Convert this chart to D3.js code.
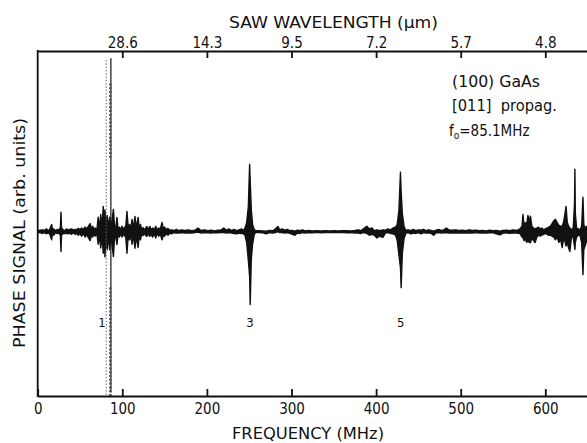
<!DOCTYPE html>
<html><head><meta charset="utf-8">
<script src="https://cdn.jsdelivr.net/npm/d3@7"></script>
<style>
body{margin:0;background:#fff}
text{font-family:"DejaVu Sans Condensed","DejaVu Sans",sans-serif;fill:#111}
</style>
</head><body><svg id="c" width="587" height="443"></svg>
<script>
// ---- data ----
const freqMHz = [0,3,6,8,10,12,14,16.5,17.5,19,21,23,25,26.8,27.5,28.2,30,32,34,36,38,40,42,44,46,48,50,52,54,56,58,60,62,63.5,65,66.5,68,70,71.5,73,74.5,76,77.5,78.5,79.5,80.5,82,83.5,85,86.5,88,89.5,91,92.5,93.7,95,96.5,98,99.6,101,102.5,104,105.5,107,108.5,110,111.5,113,115,116.5,118.7,120,121.5,123,124.5,126,127.5,129,130.5,132.5,134,136,138,139.5,141,143,145,147,148.5,150,152,154,156,158,161,164,167,170,174,178,182,186,189.5,193,197,201,205,209,213,217,220,223,226,229,232,235,238,241,243,245,247,249,250.5,251.2,252.5,254,256,258,262,266,270,274,278,281,284,286,289,292,295,298,301,304,307,310,313,316,320,325,330,335,340,345,350,355,360,365,370,375,379,382,385,389,392,395,398,401,404,408,411,414,417,420,423,425,427,428.8,429.6,431,433,435,438,441,444,447,450,453,456,459,462,465,468,471,474,477,480,483,486,490,494,498,502,506,510,514,518,522,526,530,534,538,542,546.5,550,554,558,562,566,570,572.5,573.6,575,576.5,578,579.5,581,582.5,584,586,588,590,592,594,596,598,600,602,604,606,608,610,612,614,616,618,620,621.5,623,624.5,626,627.5,629,631,633,634.5,635,635.5,637,639,641,643,644.5,645.5,647,649,652];
const sigHigh = [0.05,0.08,0.1,0.05,0.15,0.08,0.1,0.4,0.1,0.15,0.05,0.12,0.1,0.2,1.07,0.2,0.1,0.05,0.15,0.08,0.12,0.15,0.08,0.12,0.1,0.18,0.1,0.2,0.12,0.25,0.15,0.3,0.45,0.15,0.3,0.1,0.2,0.1,0.8,0.15,0.95,0.2,1.4,0.3,1.2,0.3,0.9,0.2,0.8,0.2,0.7,1.23,0.15,0.3,0.79,0.12,0.25,0.1,0.3,0.08,0.25,0.2,1.12,0.2,0.4,0.15,0.68,0.15,0.84,0.2,0.79,0.15,0.4,0.1,0.22,0.1,0.18,0.29,0.1,0.29,0.12,0.2,0.1,0.3,0.1,0.2,0.15,0.51,0.15,0.25,0.1,0.18,0.08,0.1,0.06,0.12,0.05,0.1,0.06,0.1,0.05,0.08,0.2,0.06,0.1,0.05,0.08,0.04,0.08,0.1,0.2,0.08,0.15,0.06,0.12,0.05,0.1,0.15,0.06,0.2,0.5,1.4,3.73,2.8,1.2,0.4,0.1,0.05,0.05,0.04,0.02,0.06,0.05,0.15,0.29,0.1,0.15,0.08,0.12,0.05,0.06,0.02,0.08,0.05,0.1,0.04,0.06,0.04,0.05,0.04,0.05,0.04,0.05,0.04,0.05,0.05,0.04,0.06,0.1,0.05,0.15,0.3,0.15,0.2,0.05,0.1,0.05,0.1,0.08,0.15,0.1,0.2,0.25,0.4,1.2,3.29,2.2,1.0,0.3,0.08,0.1,0.05,0.12,0.05,0.1,0.08,0.12,0.05,0.1,0.06,0.02,0.08,0.12,0.06,0.1,0.2,0.1,0.08,0.1,0.06,0.08,0.05,0.1,0.06,0.08,0.05,0.06,0.04,0.08,0.05,0.06,0.02,0.06,0.08,0.05,0.1,0.06,0.15,0.3,0.95,0.3,0.5,0.4,0.9,0.6,0.85,0.3,0.2,0.15,0.2,0.25,0.15,0.2,0.1,0.15,0.2,0.25,0.3,0.45,0.6,0.68,0.5,0.35,0.3,0.3,0.5,0.9,1.4,0.5,0.3,0.2,0.1,0.2,1.5,3.45,1.0,0.2,0.15,0.1,0.3,1.9,0.4,0.2,0.3,0.2];
const sigLow = [-0.05,-0.06,-0.1,-0.05,-0.12,-0.08,-0.1,-0.45,-0.1,-0.2,-0.05,-0.1,-0.08,-0.2,-1.1,-0.2,-0.1,-0.1,-0.1,-0.12,-0.08,-0.15,-0.05,-0.15,-0.1,-0.2,-0.12,-0.25,-0.1,-0.3,-0.15,-0.35,-0.5,-0.2,-0.3,-0.15,-0.25,-0.12,-0.7,-0.2,-0.9,-0.25,-1.2,-0.4,-1.4,-0.3,-1.0,-0.3,-1.0,-0.2,-0.8,-1.38,-0.2,-0.35,-0.71,-0.15,-0.3,-0.12,-0.3,-0.1,-0.25,-0.25,-1.2,-0.25,-0.45,-0.2,-0.7,-0.18,-0.92,-0.25,-0.88,-0.2,-0.45,-0.12,-0.22,-0.12,-0.2,-0.27,-0.1,-0.27,-0.15,-0.3,-0.12,-0.35,-0.1,-0.25,-0.15,-0.45,-0.2,-0.25,-0.1,-0.2,-0.08,-0.12,-0.06,-0.08,-0.08,-0.05,-0.08,-0.06,-0.08,-0.05,-0.03,-0.08,-0.05,-0.06,-0.08,-0.05,-0.06,-0.05,-0.05,-0.08,-0.05,-0.08,-0.1,-0.12,-0.08,-0.1,-0.12,-0.2,-0.6,-1.6,-2.5,-4.04,-1.5,-0.7,-0.15,-0.05,-0.05,-0.06,-0.12,-0.05,-0.08,-0.05,0.0,-0.05,-0.05,-0.08,-0.05,-0.1,-0.15,-0.2,-0.08,-0.1,-0.05,-0.08,-0.05,-0.06,-0.04,-0.06,-0.05,-0.04,-0.05,-0.05,-0.04,-0.06,-0.05,-0.08,-0.08,-0.1,-0.05,-0.1,-0.2,-0.15,-0.2,-0.35,-0.25,-0.32,-0.08,-0.05,-0.1,-0.12,-0.2,-0.5,-1.3,-2.0,-3.1,-1.2,-0.4,-0.1,-0.05,-0.12,-0.08,-0.1,-0.05,-0.12,-0.05,-0.08,-0.06,-0.1,-0.2,-0.06,-0.05,-0.08,-0.06,-0.05,-0.08,-0.08,-0.06,-0.08,-0.06,-0.08,-0.06,-0.08,-0.05,-0.08,-0.06,-0.08,-0.06,-0.05,-0.12,-0.18,-0.08,-0.06,-0.1,-0.06,-0.08,-0.1,-0.3,-0.32,-0.5,-0.4,-0.6,-0.5,-0.6,-0.6,-0.35,-0.5,-0.6,-0.3,-0.2,-0.25,-0.2,-0.15,-0.1,-0.15,-0.2,-0.2,-0.25,-0.3,-0.45,-0.3,-0.6,-0.4,-0.88,-0.4,-0.5,-0.8,-0.6,-0.9,-1.1,-0.3,-0.3,-0.8,-0.99,-0.6,-0.3,-0.2,-0.2,-0.6,-2.38,-1.0,-0.8,-0.5,-0.3];

const freqTicks = [0, 100, 200, 300, 400, 500, 600];
const wavelengthTickFreq = [100, 200, 300, 400, 500, 600];
const wavelengthTickLabels = ["28.6", "14.3", "9.5", "7.2", "5.7", "4.8"];

// saturated fundamental (harmonic 1) excursions
const satFreq = [81, 86.5];
const satTop = [9.5, 9.6];
const satBottom = [-9.15, -8.9];
const satBandFreq = [86.5, 86.5];
const satBandTop = [8.2, -3.1];
const satBandBottom = [4.0, -9.1];

const harmonicLabels = ["1", "3", "5"];
const harmonicLabelFreq = [76, 251, 429];
const harmonicLabelLevel = -5.05;

const noteLines = ["(100) GaAs", "[011]  propag."];

// ---- chart ----
const svg = d3.select("#c");
const x = d3.scaleLinear().domain([0, 700]).range([37.7, 37.7 + 0.846 * 700]);
const y = d3.scaleLinear().domain([-9.1, 10]).range([396, 51]);
const FONT = '"DejaVu Sans Condensed","DejaVu Sans",sans-serif';

const pts = freqMHz.map((f, i) => ({f, hi: sigHigh[i], lo: sigLow[i]}));

// trace
const area = d3.area().x(d => x(d.f)).y0(d => y(d.lo)).y1(d => y(d.hi)).curve(d3.curveLinear);
svg.append("path").datum(pts).attr("d", area)
  .attr("fill", "#111").attr("stroke", "#111").attr("stroke-width", 1.4).attr("stroke-linejoin", "round");

// saturated lines of the fundamental
satFreq.forEach((f, i) => {
  svg.append("line").attr("x1", x(f)).attr("x2", x(f)).attr("y1", y(satTop[i])).attr("y2", y(satBottom[i]))
    .attr("stroke", i === 0 ? "#666" : "#111").attr("stroke-width", i === 0 ? 1 : 1.2)
    .attr("stroke-dasharray", i === 0 ? "1.5,1.8" : null);
});
satBandFreq.forEach((f, i) => {
  svg.append("line").attr("x1", x(f) - 0.5).attr("x2", x(f) - 0.5).attr("y1", y(satBandTop[i])).attr("y2", y(satBandBottom[i]))
    .attr("stroke", "#555").attr("stroke-width", 2.6).attr("stroke-dasharray", "2,1.8");
});

// harmonic labels
svg.selectAll("text.hl").data(harmonicLabels).enter().append("text").attr("class", "hl")
  .attr("x", (d, i) => x(harmonicLabelFreq[i])).attr("y", y(harmonicLabelLevel))
  .attr("dy", "0.35em").attr("text-anchor", "middle").attr("font-size", 13).text(d => d);

// axes
const bottomAxis = svg.append("g").attr("transform", "translate(0,396)")
  .call(d3.axisBottom(x).tickValues(freqTicks).tickFormat(d3.format("d")).tickSizeInner(-7).tickSizeOuter(0).tickPadding(7));
const topAxis = svg.append("g").attr("transform", "translate(0,51)")
  .call(d3.axisTop(x).tickValues(wavelengthTickFreq).tickFormat((d, i) => wavelengthTickLabels[i]).tickSizeInner(-7).tickSizeOuter(0).tickPadding(3));
[bottomAxis, topAxis].forEach(g => {
  g.attr("font-family", FONT).attr("font-size", 15);
  g.select(".domain").attr("stroke", "#111").attr("stroke-width", 1.8);
  g.selectAll(".tick line").attr("stroke", "#111").attr("stroke-width", 1.8);
  g.selectAll(".tick text").attr("fill", "#111");
});
svg.append("line").attr("x1", x(0)).attr("x2", x(0)).attr("y1", 50.1).attr("y2", 396.9)
  .attr("stroke", "#111").attr("stroke-width", 1.8);

// titles
svg.append("text").attr("x", 229).attr("y", 28.3).attr("font-size", 16)
  .attr("textLength", 209).attr("lengthAdjust", "spacingAndGlyphs").text("SAW WAVELENGTH (µm)");
svg.append("text").attr("x", 232).attr("y", 439).attr("font-size", 16)
  .attr("textLength", 152).attr("lengthAdjust", "spacingAndGlyphs").text("FREQUENCY (MHz)");
svg.append("text").attr("transform", "translate(25,233) rotate(-90)").attr("text-anchor", "middle")
  .attr("font-size", 15.5).attr("textLength", 230).attr("lengthAdjust", "spacingAndGlyphs")
  .text("PHASE SIGNAL (arb. units)");

// annotation
const note = svg.append("g").attr("font-size", 15);
note.append("text").attr("x", 452).attr("y", 87).attr("textLength", 88).attr("lengthAdjust", "spacingAndGlyphs").text(noteLines[0]);
note.append("text").attr("x", 452).attr("y", 111).attr("textLength", 105).attr("lengthAdjust", "spacingAndGlyphs").style("white-space", "pre").text(noteLines[1]);
const f0 = note.append("text").attr("x", 449).attr("y", 136);
f0.append("tspan").text("f");
f0.append("tspan").attr("font-size", 10).attr("dy", 3).text("o");
f0.append("tspan").attr("dy", -3).text("=85.1MHz");
</script></body></html>
